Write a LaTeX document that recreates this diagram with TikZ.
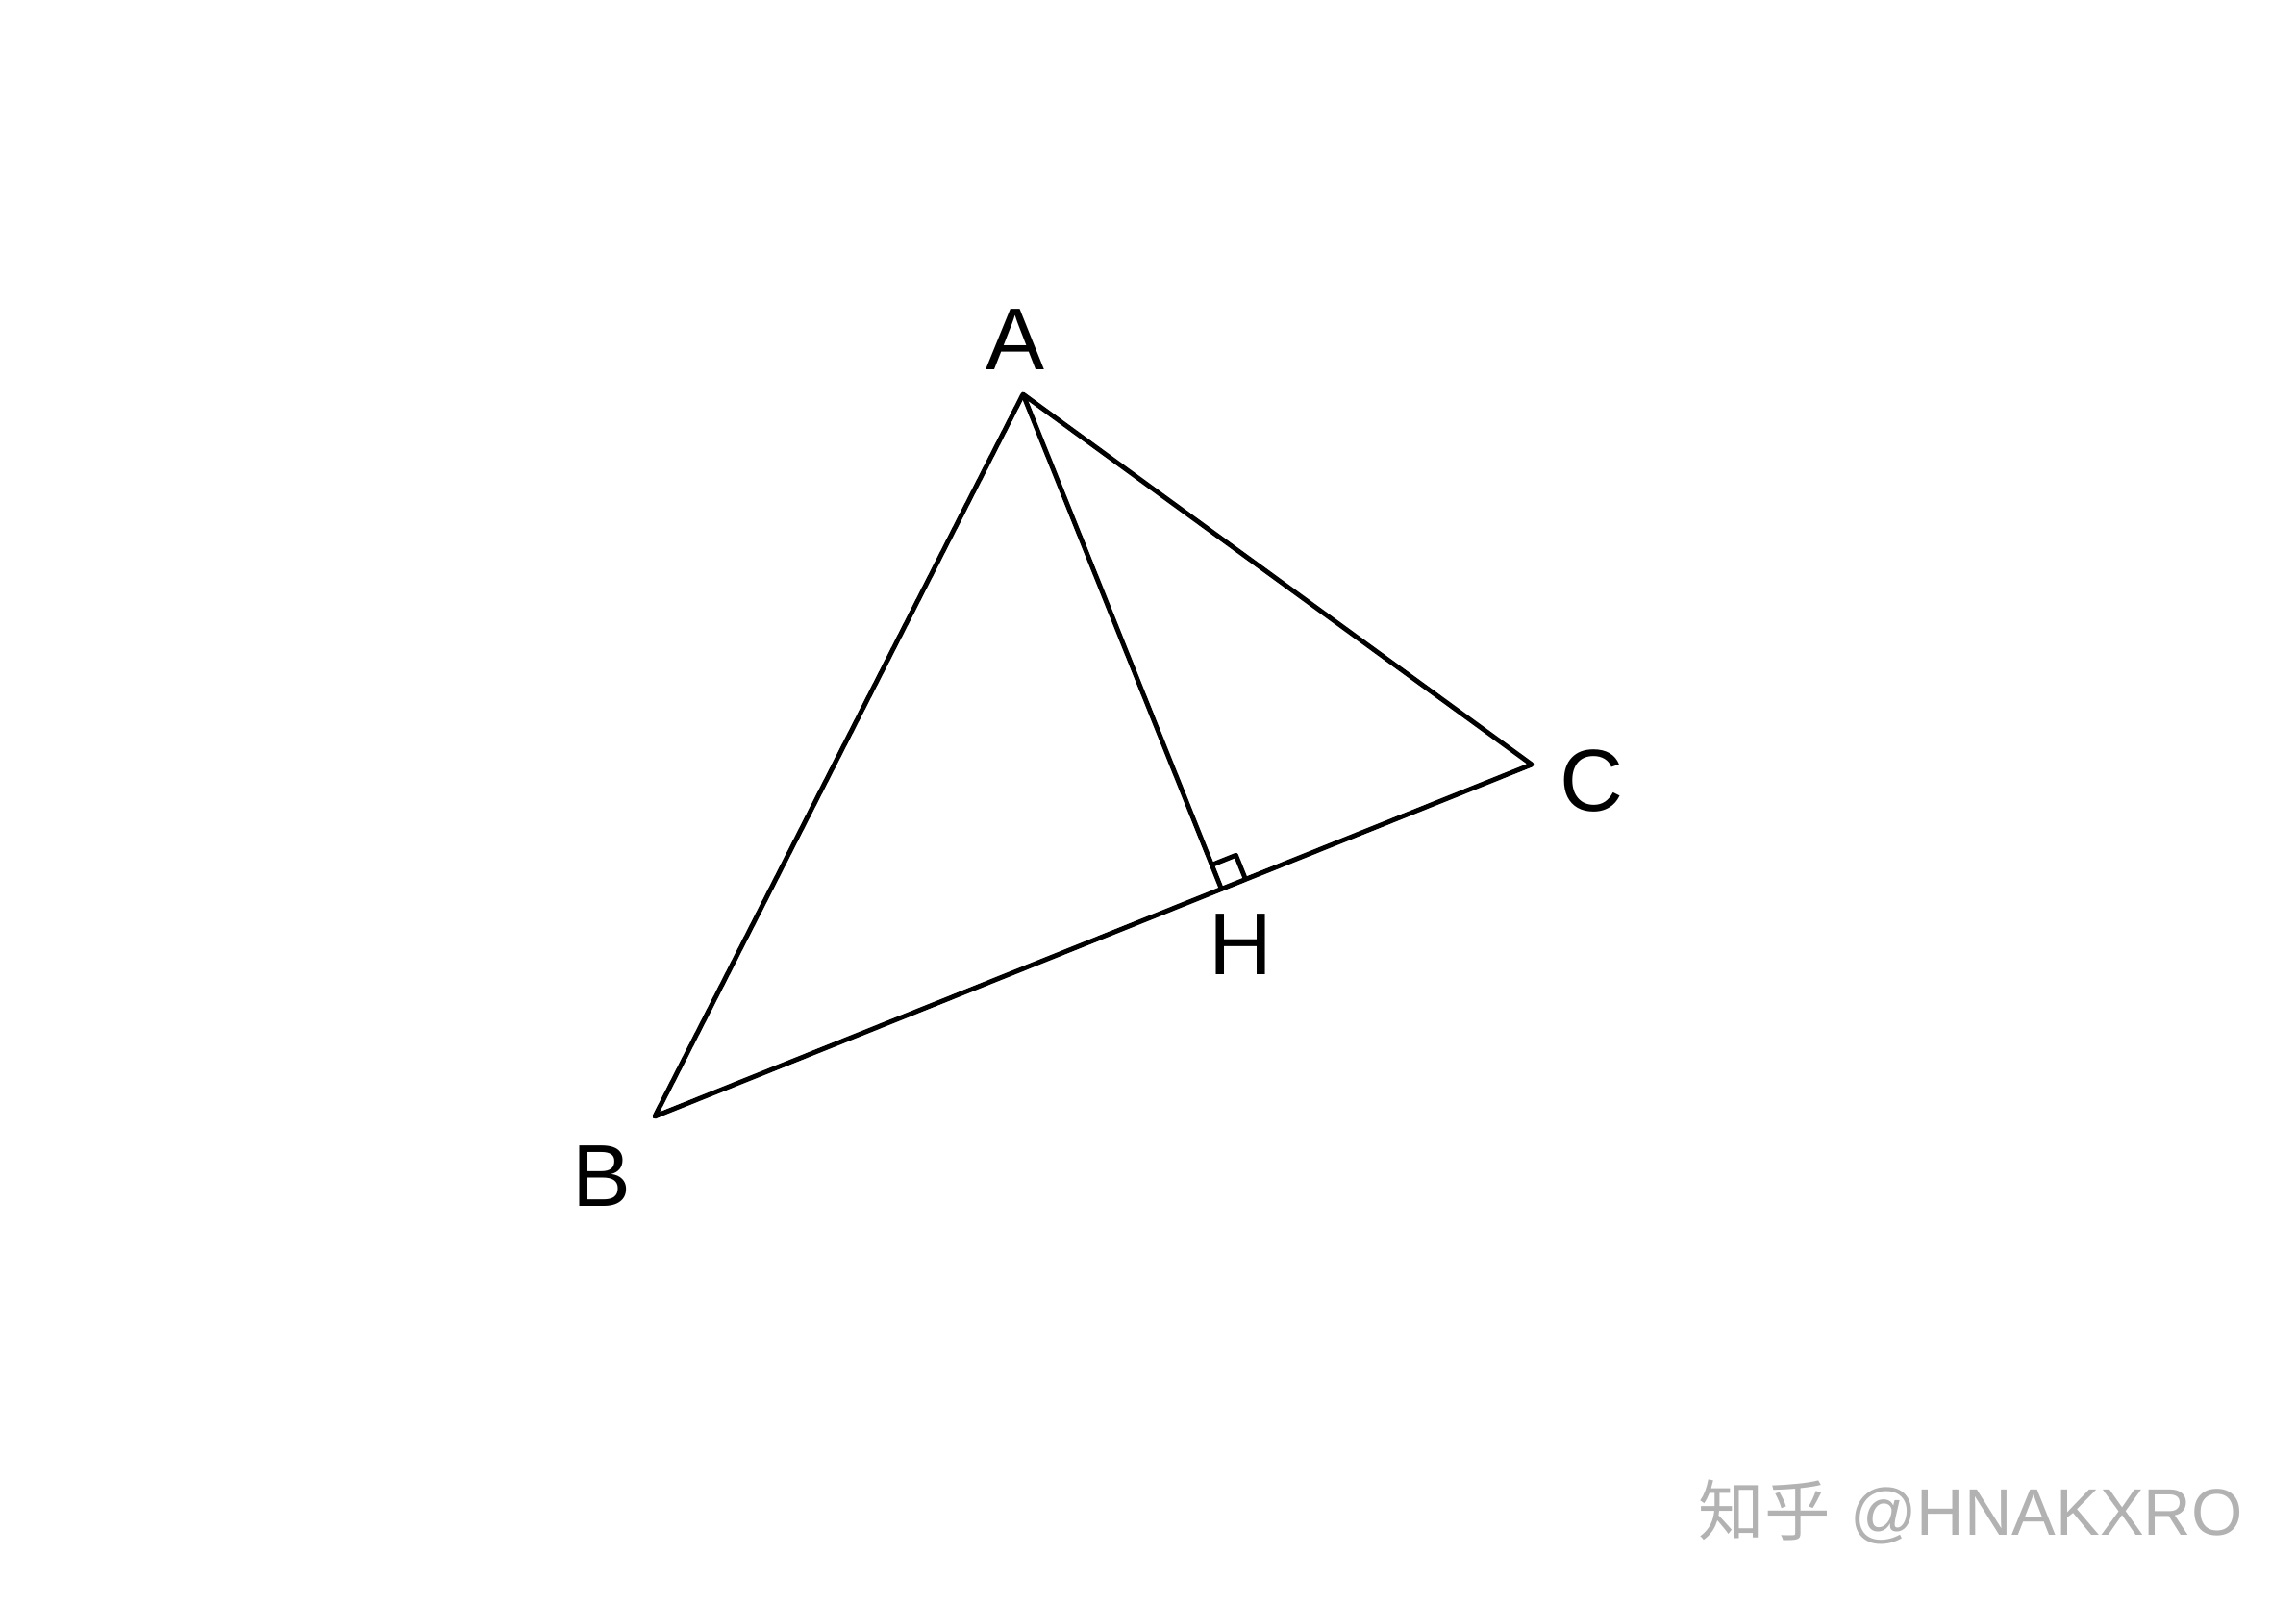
\documentclass[tikz,border=0pt]{standalone}
\usepackage{fontspec}
\setsansfont{Liberation Sans}
\newfontfamily\cjk{Noto Sans CJK SC}
\definecolor{markgray}{RGB}{178,178,178}
\usetikzlibrary{calc}

\begin{document}
\begin{tikzpicture}[line width=1.4pt, line join=round,
  vlabel/.style={font=\sffamily\fontsize{26}{30}\selectfont}]
  \useasboundingbox (0,0) rectangle (23.88,16.68);
  \coordinate (A) at (10.64,12.58);
  \coordinate (B) at (6.81,5.07);
  \coordinate (C) at (15.93,8.73);
  \coordinate (H) at ($(B)!(A)!(C)$);
  \draw (A) -- (B) -- (C) -- cycle;
  \draw (A) -- (H);
  % right angle mark
  \coordinate (HA) at ($(H)!0.27cm!(A)$);
  \coordinate (HC) at ($(H)!0.27cm!(C)$);
  \draw (HA) -- ($(HA)+(HC)-(H)$) -- (HC);
  \node[vlabel] (labA) at (10.56,13.15) {A};
  \node[vlabel] (labB) at (6.26,4.45) {B};
  \node[vlabel] (labC) at (16.55,8.56) {C};
  \node[vlabel] (labH) at (12.90,6.86) {H};
  \node[markgray, anchor=west, font=\fontsize{19.5}{24}\selectfont, inner sep=0pt] (mark)
    at (17.64,0.96) {{\cjk 知乎} \sffamily @HNAKXRO};
\end{tikzpicture}
\end{document}
